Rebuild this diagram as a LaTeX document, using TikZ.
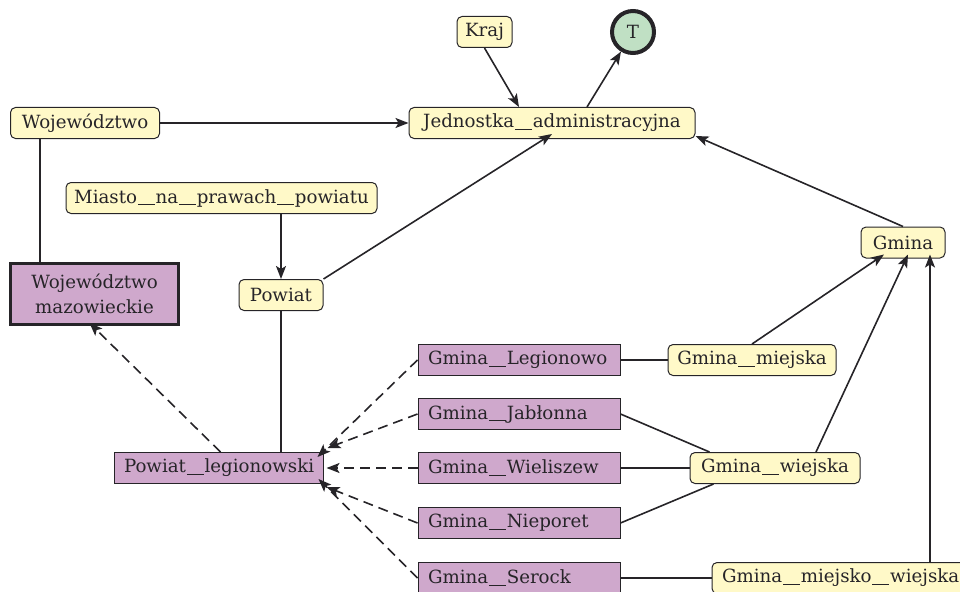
\documentclass[tikz,border=0pt]{standalone}
\usepackage{fontspec}
\setmainfont{DejaVu Serif}
\usetikzlibrary{arrows.meta,calc}
\definecolor{yelc}{RGB}{255,249,200}
\definecolor{purc}{RGB}{207,168,204}
\definecolor{grnc}{RGB}{192,224,196}
\definecolor{edgec}{RGB}{38,36,40}
\newcommand{\diafs}{\fontsize{18.2}{25}\selectfont}
\newcommand{\us}{\kern0.8pt\rule[-2pt]{17pt}{1pt}\kern0.8pt}
\tikzset{
  yel/.style={draw=edgec, fill=yelc, rounded corners=5pt, line width=1pt, minimum height=31pt, inner xsep=3pt, inner ysep=0pt, font=\diafs, text=edgec},
  pur/.style={draw=edgec, fill=purc, line width=1pt, minimum height=31pt, inner xsep=10pt, inner ysep=0pt, font=\diafs, align=left, text=edgec},
  lnk/.style={draw=edgec, line width=1.6pt},
  arr/.style={lnk, -{Stealth[length=13pt,width=10pt,inset=3pt]}},
  darr/.style={arr, dash pattern=on 10pt off 6pt},
}
\begin{document}
\begin{tikzpicture}[x=1pt,y=-1pt]
\useasboundingbox (0,0) rectangle (960,591);
\clip (0,0) rectangle (960,591);
% nodes
\node[yel, minimum width=55pt] (kraj) at (484.5,32) {Kraj};
\node[circle, draw=edgec, fill=grnc, line width=4pt, minimum size=42pt, inner sep=0pt, font=\diafs, text=edgec] (T) at (633,32) {T};
\node[yel, minimum width=149pt] (woj) at (85,123) {Województwo};
\node[yel, minimum width=286pt] (jed) at (552,123) {Jednostka\us administracyjna};
\node[yel, minimum width=311pt] (miasto) at (221.5,198) {Miasto\us na\us prawach\us powiatu};
\node[yel, minimum width=84pt] (gmina) at (903,242.5) {Gmina};
\node[draw=edgec, fill=purc, line width=3pt, minimum width=168pt, minimum height=61pt, inner sep=0pt, align=center, font=\diafs, text=edgec] (mazo) at (94.5,294) {Województwo\\mazowieckie};
\node[yel, minimum width=84pt] (powiat) at (281,295) {Powiat};
\node[pur, text width=182pt] (leg) at (519,360) {Gmina\us Legionowo};
\node[yel, minimum width=168pt] (gm) at (752,360) {Gmina\us miejska};
\node[pur, text width=182pt] (jab) at (519,414) {Gmina\us Jabłonna};
\node[pur, text width=189pt] (pleg) at (218.5,468) {Powiat\us legionowski};
\node[pur, text width=182pt] (wie) at (519,468) {Gmina\us Wieliszew};
\node[yel, minimum width=170pt] (gw) at (775,468) {Gmina\us wiejska};
\node[pur, text width=182pt] (nie) at (519,523) {Gmina\us Nieporet};
\node[pur, text width=182pt] (ser) at (519,578) {Gmina\us Serock};
\node[yel, text width=270pt, align=left, inner xsep=10pt] (gmw) at (857,578) {Gmina\us miejsko\us wiejska};
% connectors
\draw[arr] (kraj.south) -- ([xshift=-33pt]jed.north);
\draw[arr] ([xshift=35pt]jed.north) -- (T);
\draw[arr] (woj.east) -- (jed.west);
\coordinate (wojx) at ([xshift=-45pt]woj.south);
\draw[lnk] (wojx) -- (wojx |- mazo.north);
\draw[arr] (miasto.south -| powiat.north) -- (powiat.north);
\draw[arr] (powiat.north east) -- ([yshift=5pt]jed.south);
\draw[arr] (gmina.north) -- ([yshift=3pt]jed.south east);
\draw[lnk] (powiat.south) -- (powiat.south |- pleg.north);
\draw[darr] ([xshift=2pt]pleg.north) -- ([xshift=-5pt,yshift=3pt]mazo.south);
\draw[darr] (leg.west) -- ([xshift=-6pt,yshift=-5pt]pleg.north east);
\draw[darr] (jab.west) -- ([xshift=4pt,yshift=4pt]pleg.north east);
\draw[darr] (wie.west) -- ([xshift=3pt]pleg.east);
\draw[darr] (nie.west) -- ([xshift=3pt,yshift=-3pt]pleg.south east);
\draw[darr] (ser.west) -- ([xshift=-5pt,yshift=5pt]pleg.south east);
\draw[lnk] (leg.east) -- (gm.west);
\draw[arr] (gm.north) -- ([xshift=-19pt,yshift=4pt]gmina.south);
\draw[lnk] (jab.east) -- ([xshift=20pt]gw.north west);
\draw[lnk] (wie.east) -- (gw.west);
\draw[lnk] (nie.east) -- ([xshift=24pt]gw.south west);
\draw[arr] ([xshift=41pt]gw.north) -- ([xshift=5pt,yshift=4pt]gmina.south);
\draw[lnk] (ser.east) -- (gmw.west);
\coordinate (gmtip) at ([xshift=27pt,yshift=4pt]gmina.south);
\draw[arr] (gmw.north -| gmtip) -- (gmtip);
\end{tikzpicture}
\end{document}
